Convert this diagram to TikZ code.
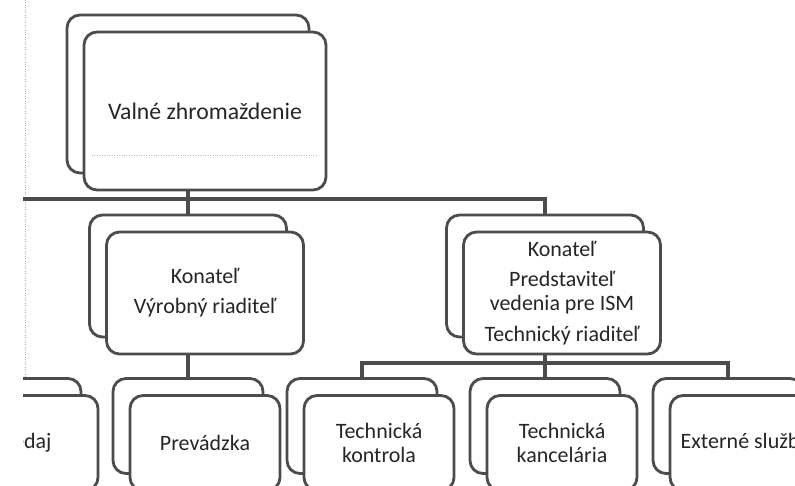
\documentclass[tikz,border=0pt]{standalone}
\usepackage{fontspec}
\setmainfont{Carlito}
\usetikzlibrary{positioning,shadows}

\definecolor{linegray}{gray}{0.3}
\definecolor{textgray}{gray}{0.15}

\begin{document}
\begin{tikzpicture}[x=0.2mm,y=-0.2mm,on grid,
    box/.style={draw=linegray,line width=1.6pt,rounded corners=2.6mm,fill=white,
      text=textgray,align=center,font=\fontsize{12.5}{14}\selectfont,
      copy shadow={shadow xshift=-3.4mm,shadow yshift=3.4mm,
        draw=linegray,line width=1.6pt,fill=white}},
    big/.style={minimum width=4.84cm,minimum height=3.16cm},
    mid/.style={minimum width=3.94cm,minimum height=2.44cm},
    small/.style={minimum width=3cm,minimum height=1.9cm},
    wire/.style={draw=linegray,line width=2.6pt}]
  \useasboundingbox (0,0) rectangle (795,486);
  \clip (23,0) rectangle (795,486);
  \draw[densely dotted,black!30] (25,0) -- (25,486);

  \node[box,big] (vz) at (205,111)
    {\fontsize{13.5}{16}\selectfont Valné zhromaždenie};
  \node[box,mid] (kv) at (205,293) {Konateľ\\[3pt]Výrobný riaditeľ};
  \node[box,mid] (kt) [right=7.14cm of kv]
    {Konateľ\\[3pt]Predstaviteľ\\vedenia pre ISM\\[3.5pt]Technický riaditeľ};
  \node[box,small] (prev) [below=3cm of kv] {Prevádzka};
  \node[box,small] (predaj) [left=3.64cm of prev] {Predaj};
  \node[box,small] (tkan) [below=3cm of kt] {Technická\\kancelária};
  \node[box,small] (tkon) [left=3.66cm of tkan] {Technická\\kontrola};
  \node[box,small] (ext) [right=3.66cm of tkan] {Externé služby};
  \draw[densely dotted,black!25] (92,155) -- (318,155);

  % attach points on the back copies
  \foreach \n in {vz,kv,kt,prev,tkon,tkan,ext}{
    \coordinate (\n-in) at ([shift={(-3.4mm,3.4mm)}]\n.north);
    \coordinate (\n-out) at ([xshift=-3.4mm]\n.south);
  }
  \coordinate (bus) at (23,199);
  \coordinate (tbus) at (545,363);

  \draw[wire] (vz-out) -- (kv-in);
  \draw[wire] (bus) -| (kt-in);
  \draw[wire] (kv-out) -- (prev-in);
  \draw[wire] (kt-out) -- (tkan-in);
  \draw[wire] (tkon-in) |- (tbus) -| (ext-in);
\end{tikzpicture}
\end{document}
